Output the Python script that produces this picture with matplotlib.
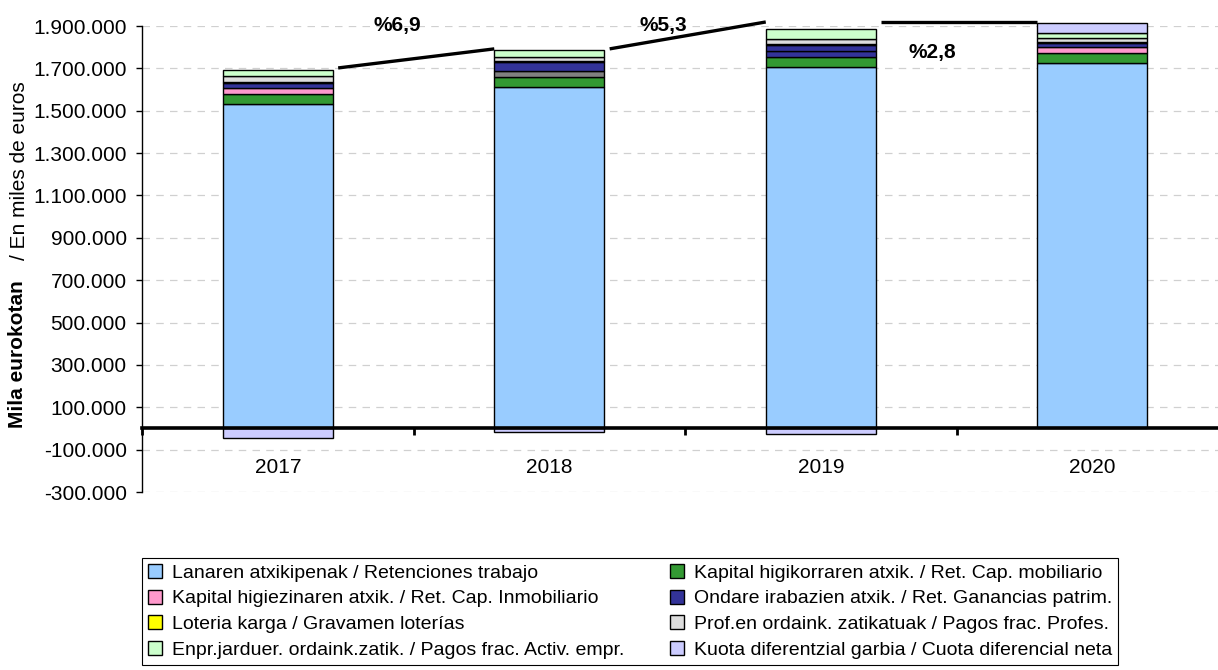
import matplotlib
matplotlib.use("Agg")
import matplotlib.pyplot as plt
import numpy as np
from matplotlib.ticker import FuncFormatter, FixedLocator

plt.rcParams['font.family'] = ['Liberation Sans', 'DejaVu Sans']

years = ['2017', '2018', '2019', '2020']

# miles de euros
retenciones_trabajo = [1531000, 1614000, 1708000, 1727000]
cap_mobiliario = [47000, 47000, 45000, 47000]
cap_inmobiliario = [28000, 27000, 27000, 25000]
ganancias_patrim = [25000, 40000, 30000, 22000]
gravamen_loterias = [4000, 5000, 4000, 4000]
pagos_profes = [30000, 20000, 24000, 16000]
pagos_empr = [25000, 34000, 48000, 27000]
cuota_dif_neta = [-45000, -18000, -27000, 48000]

growth_labels = ['%6,9', '%5,3', '%2,8']
growth_label_x = [0.44, 1.42, 2.41]
growth_label_y = [1900000, 1900000, 1773000]
# connecting line levels (start, end) for each pair of years
line_start = [1702000, 1792000, 1919000]
line_end = [1792000, 1919000, 1919000]

series = [
    ('Lanaren atxikipenak / Retenciones trabajo', retenciones_trabajo, '#99CCFF'),
    ('Kapital higikorraren atxik. / Ret. Cap. mobiliario', cap_mobiliario, '#339933'),
    ('Kapital higiezinaren atxik. / Ret. Cap. Inmobiliario', cap_inmobiliario, '#FF99CC'),
    ('Ondare irabazien atxik. / Ret. Ganancias patrim.', ganancias_patrim, '#333399'),
    ('Loteria karga / Gravamen loterías', gravamen_loterias, '#FFFF00'),
    ('Prof.en ordaink. zatikatuak / Pagos frac. Profes.', pagos_profes, '#DDDDDD'),
    ('Enpr.jarduer. ordaink.zatik. / Pagos frac. Activ. empr.', pagos_empr, '#CCFFCC'),
    ('Kuota diferentzial garbia / Cuota diferencial neta', cuota_dif_neta, '#CCCCFF'),
]
# the Inmobiliario segment is drawn in other colours in 2018 and 2019
inmob_colors = ['#FF99CC', '#808080', '#333399', '#FF99CC']

fig = plt.figure(figsize=(12.18, 6.7), dpi=100)
ax = fig.add_axes([142/1218, 1-492/670, 1086/1218, 466/670])

x = np.arange(len(years))
w = 0.405
pos_base = np.zeros(len(years))
neg_base = np.zeros(len(years))
handles = []
for i, (name, vals, col) in enumerate(series):
    vals = np.array(vals, dtype=float)
    base = np.where(vals >= 0, pos_base, neg_base)
    colors = inmob_colors if i == 2 else col
    ax.bar(x, vals, w, bottom=base, color=colors, edgecolor='black',
           linewidth=1.0, zorder=3, clip_on=False)
    h = plt.Rectangle((0, 0), 1, 1, facecolor=col, edgecolor='black', linewidth=1.0)
    handles.append((h, name))
    pos_base = pos_base + np.where(vals >= 0, vals, 0)
    neg_base = neg_base + np.where(vals < 0, vals, 0)

# growth lines between bars
for i in range(len(years) - 1):
    ax.plot([x[i] + w/2 + 0.02, x[i+1] - w/2], [line_start[i], line_end[i]],
            color='black', lw=2.4, zorder=4, clip_on=False, solid_capstyle='butt')
    ax.text(growth_label_x[i], growth_label_y[i], growth_labels[i], ha='center',
            va='center', fontsize=15, fontweight='bold', zorder=5)

ax.set_xlim(-0.5, 3.5)
ax.set_ylim(-300000, 1900000)
ax.yaxis.set_major_locator(FixedLocator(np.arange(-300000, 1900001, 200000)))
ax.yaxis.set_major_formatter(FuncFormatter(lambda v, p: f"{v:,.0f}".replace(',', '.')))
ax.grid(axis='y', color='#D0D0D0', linestyle=(0, (6, 5)), linewidth=0.9, zorder=0)

for s in ['top', 'right']:
    ax.spines[s].set_visible(False)
ax.spines['left'].set_linewidth(1.0)
ax.spines['bottom'].set_position(('data', 0))
ax.spines['bottom'].set_linewidth(2.6)
ax.spines['bottom'].set_zorder(4)

ax.set_xticks(x)
ax.set_xticklabels(years)
ax.xaxis.set_minor_locator(FixedLocator([-0.5, 0.5, 1.5, 2.5]))
ax.tick_params(axis='x', which='major', length=0, pad=21, labelsize=15)
ax.tick_params(axis='x', which='minor', length=5, width=2, direction='out')
ax.tick_params(axis='y', length=4, width=1, pad=7, labelsize=15)

# y label: bold part plus normal part
fig.text(18/1218, 1-428/670, 'Mila eurokotan', rotation=90, ha='center', va='bottom',
         fontsize=15, fontweight='bold')
fig.text(20/1218, 1-260/670, '/ En miles de euros', rotation=90, ha='center', va='bottom',
         fontsize=15)

order = [0, 2, 4, 6, 1, 3, 5, 7]
leg = fig.legend([handles[k][0] for k in order], [handles[k][1] for k in order],
                 loc='upper left', bbox_to_anchor=(142/1218, 1-558/670, 976/1218, 0),
                 mode='expand', ncol=2,
                 fontsize=14, frameon=True, fancybox=False, framealpha=1,
                 edgecolor='black', handlelength=0.75, handleheight=0.75,
                 handletextpad=0.5, columnspacing=0.6, labelspacing=0.4,
                 borderpad=0.3, borderaxespad=0)
leg.get_frame().set_linewidth(0.8)

fig.savefig('out.png', dpi=100)
